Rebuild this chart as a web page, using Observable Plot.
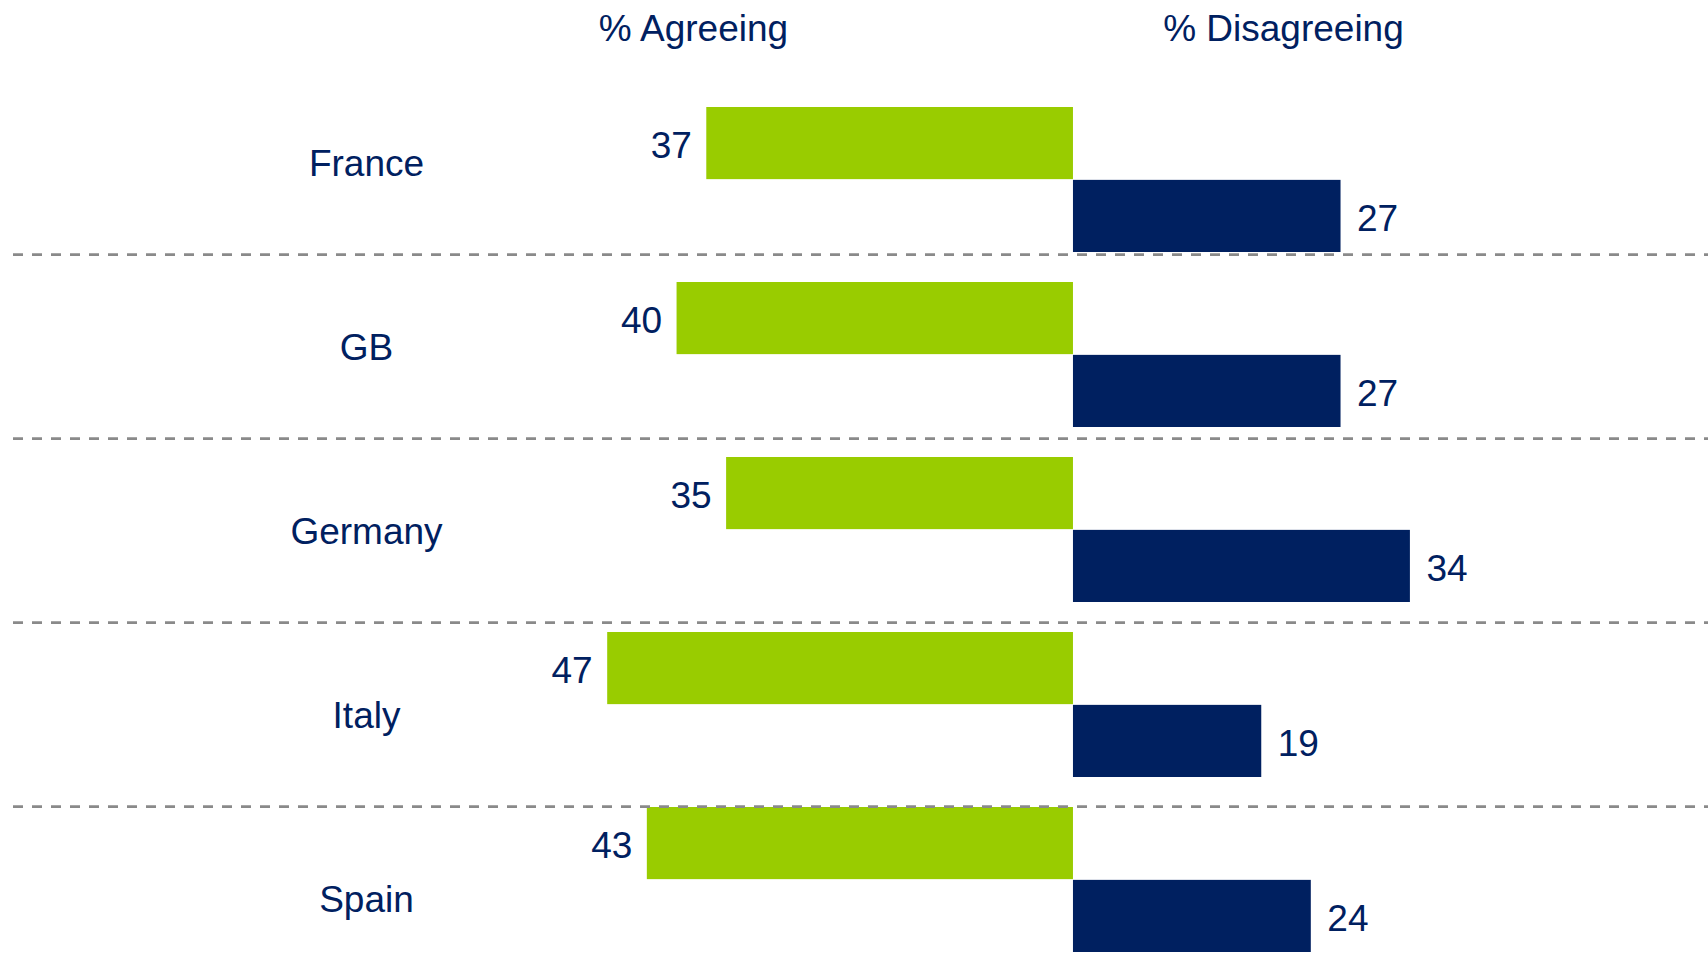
<!DOCTYPE html>
<html>
<head>
<meta charset="utf-8">
<script src="https://cdn.jsdelivr.net/npm/d3@7"></script>
<script src="https://cdn.jsdelivr.net/npm/@observablehq/plot@0.6"></script>
<style>
  html, body { margin: 0; padding: 0; background: #ffffff; overflow: hidden; }
  #chart { position: relative; width: 1708px; height: 953px; }
  #chart svg { position: absolute; left: 0; top: 0; }
</style>
</head>
<body>
<div id="chart"></div>
<script>
const countries = ["France", "GB", "Germany", "Italy", "Spain"];
const agreeing = [37, 40, 35, 47, 43];
const disagreeing = [27, 27, 34, 19, 24];
const headers = ["% Agreeing", "% Disagreeing"];

const agreeData = countries.map((c, i) => ({country: c, value: agreeing[i]}));
const disagreeData = countries.map((c, i) => ({country: c, value: disagreeing[i]}));

const font = "'Liberation Sans', Arial, Helvetica, sans-serif";
const textColor = "#002060";
const green = "#99CC00";
const navy = "#002060";
const fs = 37;

// bar band layout
const yRange = [105, 954.7];
const padInner = 0.172;
const step = (yRange[1] - yRange[0]) / (countries.length - padInner);
const half = step * (1 - padInner) / 2;

// label / separator band layout (the original places these on a slightly wider grid)
const lRange = [69.1, 991.2];
const lStep = (lRange[1] - lRange[0]) / countries.length;

const xScale = {domain: [-108.27, 64.08], range: [0, 1708], axis: null};

const bars = Plot.plot({
  width: 1708,
  height: 953,
  marginTop: 0, marginBottom: 0, marginLeft: 0, marginRight: 0,
  style: {fontFamily: font, background: "#ffffff", overflow: "hidden"},
  x: xScale,
  y: {type: "band", domain: countries, range: yRange, paddingInner: padInner, paddingOuter: 0, axis: null},
  marks: [
    Plot.barX(agreeData, {
      y: "country", x1: d => -d.value, x2: 0,
      insetBottom: half, fill: green
    }),
    Plot.barX(disagreeData, {
      y: "country", x1: 0, x2: "value",
      insetTop: half, fill: navy
    }),
    Plot.text(agreeData, {
      y: "country", x: d => -d.value, text: d => String(d.value),
      textAnchor: "end", dx: -15, dy: -33.5, lineAnchor: "middle",
      fontSize: fs, fill: textColor
    }),
    Plot.text(disagreeData, {
      y: "country", x: "value", text: d => String(d.value),
      textAnchor: "start", dx: 16, dy: 39.5, lineAnchor: "middle",
      fontSize: fs, fill: textColor
    }),
    Plot.text([headers[0]], {
      x: () => 0, text: d => d, frameAnchor: "top", dx: -380, dy: 28.5,
      textAnchor: "middle", lineAnchor: "middle", fontSize: fs, fill: textColor
    }),
    Plot.text([headers[1]], {
      x: () => 0, text: d => d, frameAnchor: "top", dx: 210, dy: 28.5,
      textAnchor: "middle", lineAnchor: "middle", fontSize: fs, fill: textColor
    })
  ]
});

const overlay = Plot.plot({
  width: 1708,
  height: 953,
  marginTop: 0, marginBottom: 0, marginLeft: 0, marginRight: 0,
  style: {fontFamily: font, background: "transparent", overflow: "hidden"},
  x: xScale,
  y: {type: "band", domain: countries, range: lRange, padding: 0, axis: null},
  marks: [
    Plot.ruleY(countries.slice(0, -1), {
      y: d => d, dy: lStep / 2, insetLeft: 13,
      stroke: "#8a8a8a", strokeWidth: 2.7, strokeDasharray: "10,9"
    }),
    Plot.text(countries, {
      y: d => d, text: d => d, frameAnchor: "left", dx: 366, dy: 1.4,
      textAnchor: "middle", lineAnchor: "middle",
      fontSize: fs, fill: textColor
    })
  ]
});

const host = document.getElementById("chart");
host.appendChild(bars);
host.appendChild(overlay);
</script>
</body>
</html>
